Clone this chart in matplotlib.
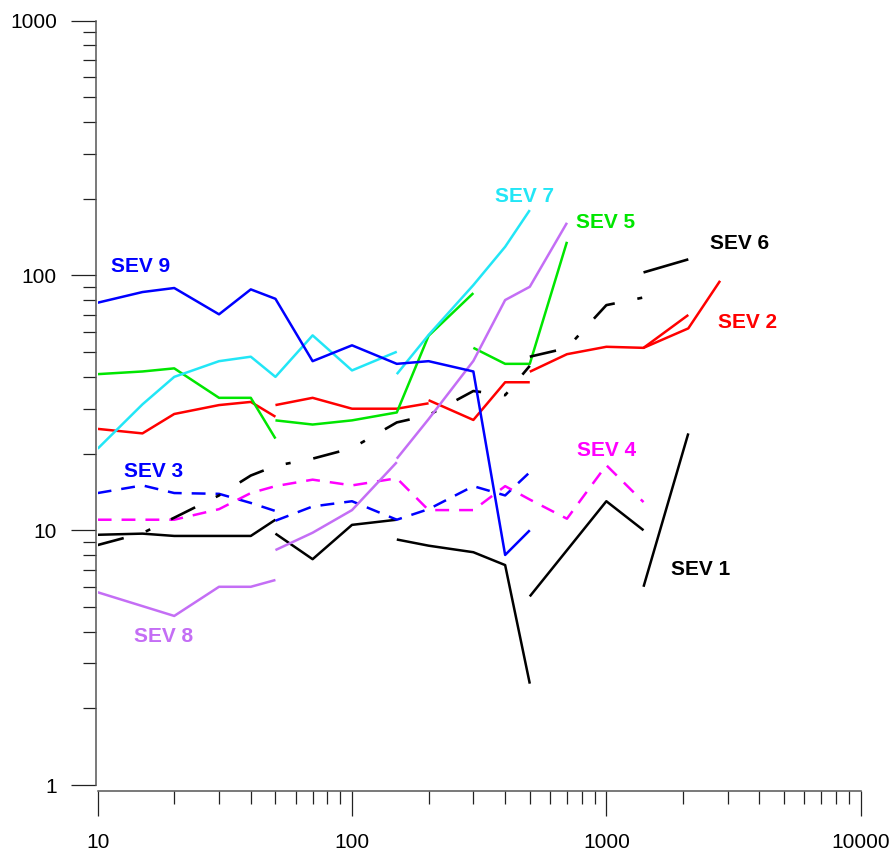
import matplotlib
matplotlib.use("Agg")
import matplotlib.pyplot as plt
from matplotlib.ticker import FixedLocator, LogLocator, NullFormatter

plt.rcParams["font.family"] = ["Liberation Sans", "DejaVu Sans"]
plt.rcParams["lines.scale_dashes"] = False

# AB/2 spacing (m) and apparent resistivity (ohm.m), one list per field segment
sev1_x = [[10, 15, 20, 30, 40, 50], [50, 70, 100, 150], [150, 200, 300, 400, 500],
          [500, 1000, 1400], [1400, 2100]]
sev1_y = [[9.6, 9.7, 9.5, 9.5, 9.5, 11.0], [9.7, 7.7, 10.5, 11.0], [9.2, 8.7, 8.2, 7.3, 2.5],
          [5.5, 13.0, 10.0], [6.0, 24.0]]

sev2_x = [[10, 15, 20, 30, 40, 50], [50, 70, 100, 150, 200], [200, 300, 400, 500],
          [500, 700, 1000, 1400, 2100], [1400, 2100, 2800]]
sev2_y = [[25.0, 24.0, 28.6, 31.0, 31.9, 27.9], [31.0, 33.1, 30.0, 30.0, 31.5],
          [32.4, 27.1, 38.1, 38.1], [41.9, 49.1, 52.5, 52.0, 70.0], [52.0, 62.0, 95.3]]

sev3_x = [[10, 15, 20, 30, 40, 50], [50, 70, 100, 150, 200, 300, 400, 500]]
sev3_y = [[14.0, 15.0, 14.0, 13.9, 12.8, 11.9], [10.9, 12.4, 13.0, 11.0, 12.1, 14.9, 13.7, 16.9]]

sev4_x = [[10, 15, 20, 30, 40, 50, 70, 100, 150, 200, 300, 400, 500, 700, 1000, 1400]]
sev4_y = [[11.0, 11.0, 11.0, 12.1, 14.0, 14.9, 15.8, 15.0, 16.0, 12.0, 12.0, 14.9, 13.2, 11.1, 18.0, 12.9]]

sev5_x = [[10, 15, 20, 30, 40, 50], [50, 70, 100, 150, 200, 300], [300, 400, 500, 700]]
sev5_y = [[41.0, 42.0, 43.2, 33.1, 33.1, 22.9], [27.0, 26.0, 27.0, 29.0, 58.0, 85.3],
          [52.0, 45.0, 45.0, 135.6]]

sev6_x = [[10, 15, 20, 30, 40, 50, 70, 100, 150, 200, 300, 400, 500], [500, 700, 1000, 1400],
          [1400, 2100]]
sev6_y = [[8.75, 9.75, 11.2, 13.7, 16.4, 17.9, 19.1, 21.0, 26.5, 28.3, 35.2, 33.9, 44.2],
          [48.0, 51.9, 76.5, 82.0], [102.8, 115.7]]

sev7_x = [[10, 15, 20, 30, 40, 50, 70, 100, 150], [150, 200, 300, 400, 500]]
sev7_y = [[20.9, 31.2, 40.0, 46.1, 48.0, 40.0, 58.2, 42.4, 50.2], [41.0, 58.4, 91.7, 129.6, 180.6]]

sev8_x = [[10, 20, 30, 40, 50], [50, 70, 100, 150], [150, 200, 300, 400, 500, 700]]
sev8_y = [[5.71, 4.61, 6.0, 6.0, 6.38], [8.36, 9.78, 12.0, 18.5], [19.1, 27.3, 46.2, 80.1, 90.3, 161.0]]

sev9_x = [[10, 15, 20, 30, 40, 50, 70, 100, 150, 200, 300, 400, 500]]
sev9_y = [[78.2, 86.1, 89.3, 70.4, 88.2, 81.0, 46.1, 53.2, 45.0, 46.1, 42.0, 8.0, 10.0]]

BLACK = "#000000"
RED = "#ff0000"
BLUE = "#0000ff"
MAGENTA = "#ff00ff"
GREEN = "#00e600"
CYAN = "#22e6f6"
VIOLET = "#c46ef5"

SHORT_DASH = (0, (10.0, 7.2))
DASH_DOT = (0, (19.4, 16.6, 3.6, 16.6))


def draw_sev(ax, xs, ys, color, ls="-", lw=1.8):
    for x, y in zip(xs, ys):
        ax.plot(x, y, color=color, linestyle=ls, linewidth=lw, solid_capstyle="butt",
                dash_capstyle="butt")


fig = plt.figure(figsize=(8.96, 8.56), dpi=100)
ax = fig.add_axes([0.109, 0.0829, 0.8516, 0.8929])
ax.set_xscale("log")
ax.set_yscale("log")
ax.set_xlim(10, 10000)
ax.set_ylim(1, 1000)

draw_sev(ax, sev1_x, sev1_y, BLACK)
draw_sev(ax, sev2_x, sev2_y, RED)
draw_sev(ax, sev3_x, sev3_y, BLUE, SHORT_DASH)
draw_sev(ax, sev4_x, sev4_y, MAGENTA, SHORT_DASH)
draw_sev(ax, sev5_x, sev5_y, GREEN)
draw_sev(ax, sev6_x[:2], sev6_y[:2], BLACK, DASH_DOT, 1.9)
draw_sev(ax, sev6_x[2:], sev6_y[2:], BLACK, "-", 1.9)
draw_sev(ax, sev7_x, sev7_y, CYAN)
draw_sev(ax, sev8_x, sev8_y, VIOLET)
draw_sev(ax, sev9_x, sev9_y, BLUE)

lab = dict(fontsize=15, fontweight="bold", ha="center", va="center")
ax.text(14.7, 108, "SEV 9", color=BLUE, **lab)
ax.text(475, 205, "SEV 7", color=CYAN, **lab)
ax.text(997, 161, "SEV 5", color=GREEN, **lab)
ax.text(3325, 133, "SEV 6", color=BLACK, **lab)
ax.text(3607, 65.3, "SEV 2", color=RED, **lab)
ax.text(16.65, 17.0, "SEV 3", color=BLUE, **lab)
ax.text(1000, 20.6, "SEV 4", color=MAGENTA, **lab)
ax.text(2357, 7.0, "SEV 1", color=BLACK, **lab)
ax.text(18.2, 3.83, "SEV 8", color=VIOLET, **lab)

for side in ["top", "right"]:
    ax.spines[side].set_visible(False)
ax.spines["left"].set_position(("outward", 1.4))
ax.spines["bottom"].set_position(("outward", 4.3))
ax.spines["left"].set_bounds(1, 1000)
ax.spines["bottom"].set_bounds(10, 10000)
for side in ["left", "bottom"]:
    ax.spines[side].set_color("#555555")
    ax.spines[side].set_linewidth(1.1)

ax.xaxis.set_major_locator(FixedLocator([10, 100, 1000, 10000]))
ax.yaxis.set_major_locator(FixedLocator([1, 10, 100, 1000]))
ax.set_xticklabels(["10", "100", "1000", "10000"])
ax.set_yticklabels(["1", "10", "100", "1000"])
ax.xaxis.set_minor_locator(LogLocator(base=10, subs=range(2, 10)))
ax.yaxis.set_minor_locator(LogLocator(base=10, subs=range(2, 10)))
ax.xaxis.set_minor_formatter(NullFormatter())
ax.yaxis.set_minor_formatter(NullFormatter())
ax.tick_params(which="major", direction="out", length=18, width=0.9, color="#222222",
               labelsize=15)
ax.tick_params(which="minor", direction="out", length=9.4, width=0.9, color="#222222")
ax.tick_params(axis="y", which="major", pad=10)
ax.tick_params(axis="x", which="major", pad=12)

fig.savefig("out.png", dpi=100)
